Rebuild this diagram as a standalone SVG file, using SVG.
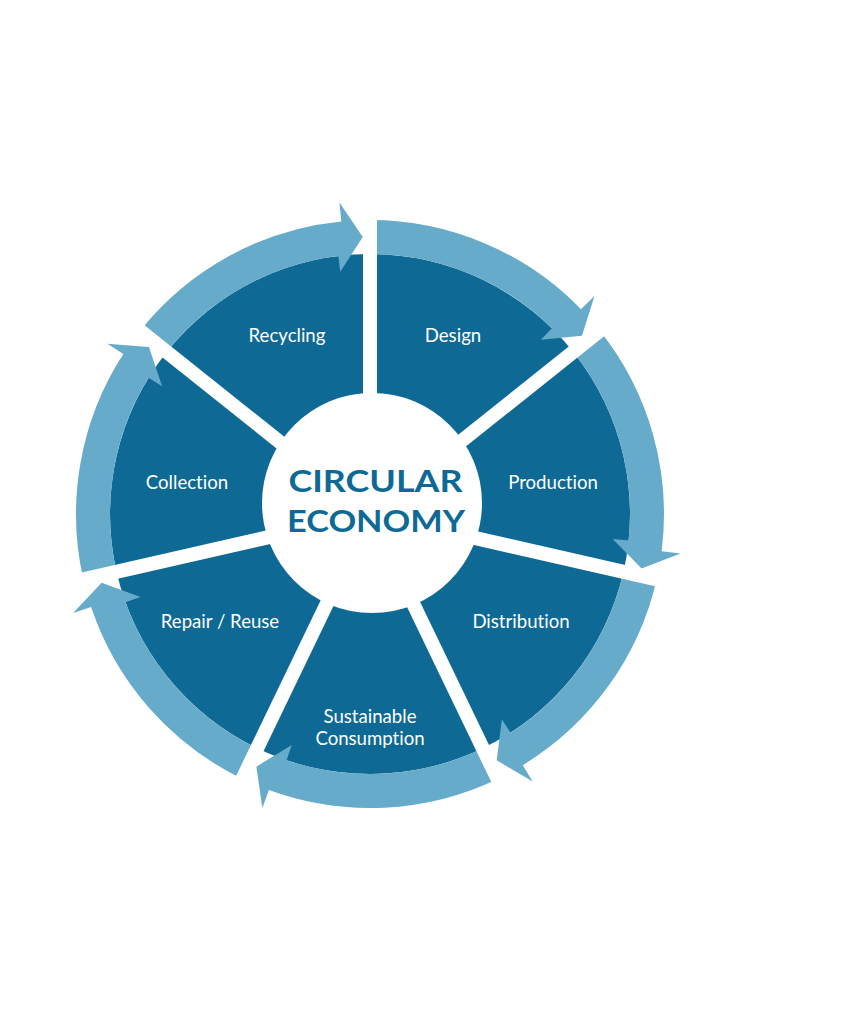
<svg xmlns="http://www.w3.org/2000/svg" width="861" height="1024" viewBox="0 0 861 1024">
  <style>
    .seg { fill: #0e6a95; }
    .arrow { fill: #67abca; }
    .sep { stroke: #ffffff; stroke-width: 14; stroke-linecap: butt; }
    .lbl { font-family: Lato, "Liberation Sans", sans-serif; font-size: 18.6px; font-variant-ligatures: none; fill: #ffffff; text-anchor: middle; }
    .title { font-family: Lato, "Liberation Sans", sans-serif; font-size: 30px; font-weight: bold; fill: #0e6a95; text-anchor: middle; }
  </style>
  <rect width="861" height="1024" fill="#ffffff"/>

  <g id="node-design">
    <path class="seg" d="M370,514 L370,254 A260,260 0 0 1 573.28,351.89 Z"/>
    <text class="lbl" x="453" y="342">Design</text>
  </g>
  <g id="node-production">
    <path class="seg" d="M370,514 L573.28,351.89 A260,260 0 0 1 623.48,571.86 Z"/>
    <text class="lbl" x="553" y="489">Production</text>
  </g>
  <g id="node-distribution">
    <path class="seg" d="M370,514 L623.48,571.86 A260,260 0 0 1 482.81,748.25 Z"/>
    <text class="lbl" x="521" y="628">Distribution</text>
  </g>
  <g id="node-sustainable-consumption">
    <path class="seg" d="M370,514 L482.81,748.25 A260,260 0 0 1 257.19,748.25 Z"/>
    <text class="lbl" x="370" y="723">Sustainable</text>
    <text class="lbl" x="370" y="745">Consumption</text>
  </g>
  <g id="node-repair-reuse">
    <path class="seg" d="M370,514 L257.19,748.25 A260,260 0 0 1 116.52,571.86 Z"/>
    <text class="lbl" x="220" y="628">Repair / Reuse</text>
  </g>
  <g id="node-collection">
    <path class="seg" d="M370,514 L116.52,571.86 A260,260 0 0 1 166.72,351.89 Z"/>
    <text class="lbl" x="187" y="489">Collection</text>
  </g>
  <g id="node-recycling">
    <path class="seg" d="M370,514 L166.72,351.89 A260,260 0 0 1 370,254 Z"/>
    <text class="lbl" x="287" y="342">Recycling</text>
  </g>

  <g id="connectors">
    <path class="arrow" d="M370,220 A294,294 0 0 1 580.87,309.14 L594.50,295.90 L581.97,335.68 L540.80,339.75 L552.01,328.33 A260,260 0 0 0 370,254 Z"/>
    <path class="arrow" d="M599.86,330.69 A294,294 0 0 1 661.65,551.14 L680.49,553.54 L641.58,568.55 L612.73,538.90 L628.64,540.53 A260,260 0 0 0 573.28,351.89 Z"/>
    <path class="arrow" d="M656.63,579.42 A294,294 0 0 1 522.80,765.17 L532.68,781.41 L496.68,760.34 L501.87,719.30 L510.52,732.76 A260,260 0 0 0 623.48,571.86 Z"/>
    <path class="arrow" d="M497.56,778.89 A294,294 0 0 1 268.90,790.07 L262.36,807.91 L256.39,766.63 L291.71,745.10 L286.58,760.26 A260,260 0 0 0 482.81,748.25 Z"/>
    <path class="arrow" d="M242.44,778.89 A294,294 0 0 1 91.12,607.08 L73.10,613.10 L101.65,582.69 L140.51,596.88 L125.46,602.32 A260,260 0 0 0 257.19,748.25 Z"/>
    <path class="arrow" d="M83.37,579.42 A294,294 0 0 1 123.35,354.00 L107.41,343.66 L148.98,347.02 L162.11,386.25 L148.48,377.87 A260,260 0 0 0 116.52,571.86 Z"/>
    <path class="arrow" d="M140.14,330.69 A294,294 0 0 1 341.31,221.40 L339.46,202.49 L362.75,237.09 L340.26,271.82 L338.31,255.94 A260,260 0 0 0 166.72,351.89 Z"/>
  </g>

  <g id="separators">
    <line class="sep" x1="370" y1="514" x2="370" y2="184"/>
    <line class="sep" x1="370" y1="514" x2="628.00" y2="308.25"/>
    <line class="sep" x1="370" y1="514" x2="691.73" y2="587.43"/>
    <line class="sep" x1="370" y1="514" x2="513.18" y2="811.32"/>
    <line class="sep" x1="370" y1="514" x2="226.82" y2="811.32"/>
    <line class="sep" x1="370" y1="514" x2="48.27" y2="587.43"/>
    <line class="sep" x1="370" y1="514" x2="111.99" y2="308.25"/>
  </g>

  <g id="node-center">
    <circle cx="372" cy="503" r="110" fill="#ffffff"/>
    <text class="title" x="375.5" y="491.5" textLength="174" lengthAdjust="spacingAndGlyphs">CIRCULAR</text>
    <text class="title" x="376" y="531.5" textLength="178" lengthAdjust="spacingAndGlyphs">ECONOMY</text>
  </g>
</svg>
